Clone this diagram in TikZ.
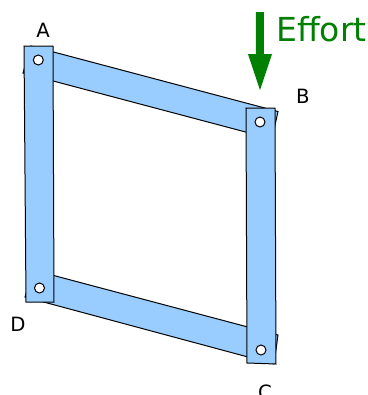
\documentclass[tikz,border=0pt]{standalone}
\usepackage{fontspec}
\setmainfont{DejaVu Sans}
\definecolor{barblue}{HTML}{99CCFF}
\definecolor{effortgreen}{HTML}{008000}
\tikzset{
  barlink/.style={draw=black,fill=barblue,line width=0.25mm,line join=miter},
  pinhole/.style={draw=black,fill=white,line width=0.25mm},
  cornerlabel/.style={font=\fontsize{14}{14}\selectfont,inner sep=0pt},
}
\begin{document}
\begin{tikzpicture}[x=0.25mm,y=-0.25mm]
\useasboundingbox (0,0) rectangle (368,395);
\clip (0,0) rectangle (368,395);
% slanted links go first, the upright ones cover their ends
\draw[barlink] (31,46) -- (278,111.5) -- (272,139) -- (23,73) -- cycle;
\draw[barlink] (33,270) -- (278,335) -- (274,364) -- (25,297) -- cycle;
% upright links
\draw[barlink] (24,46) -- (53,46) -- (54,302) -- (26,302) -- cycle;
\draw[barlink] (246,108) -- (275,108) -- (276,364) -- (247,363) -- cycle;
% pins
\foreach \px/\py in {38.3/60,260/122,39.5/288,261/350} {\draw[pinhole] (\px,\py) circle (5);}
% effort arrow
\fill[effortgreen] (256,12) -- (264,12) -- (264,54) -- (272,54) -- (260,90) -- (248,54) -- (256,54) -- cycle;
\node[text=effortgreen,font=\fontsize{23.5}{23.5}\selectfont,inner sep=0pt,anchor=base west] (effort) at (276,41) {Effort};
\node[cornerlabel] (labA) at (43,30) {A};
\node[cornerlabel] (labB) at (303,96) {B};
\node[cornerlabel] (labC) at (265,392) {C};
\node[cornerlabel] (labD) at (18,324) {D};
\end{tikzpicture}
\end{document}
